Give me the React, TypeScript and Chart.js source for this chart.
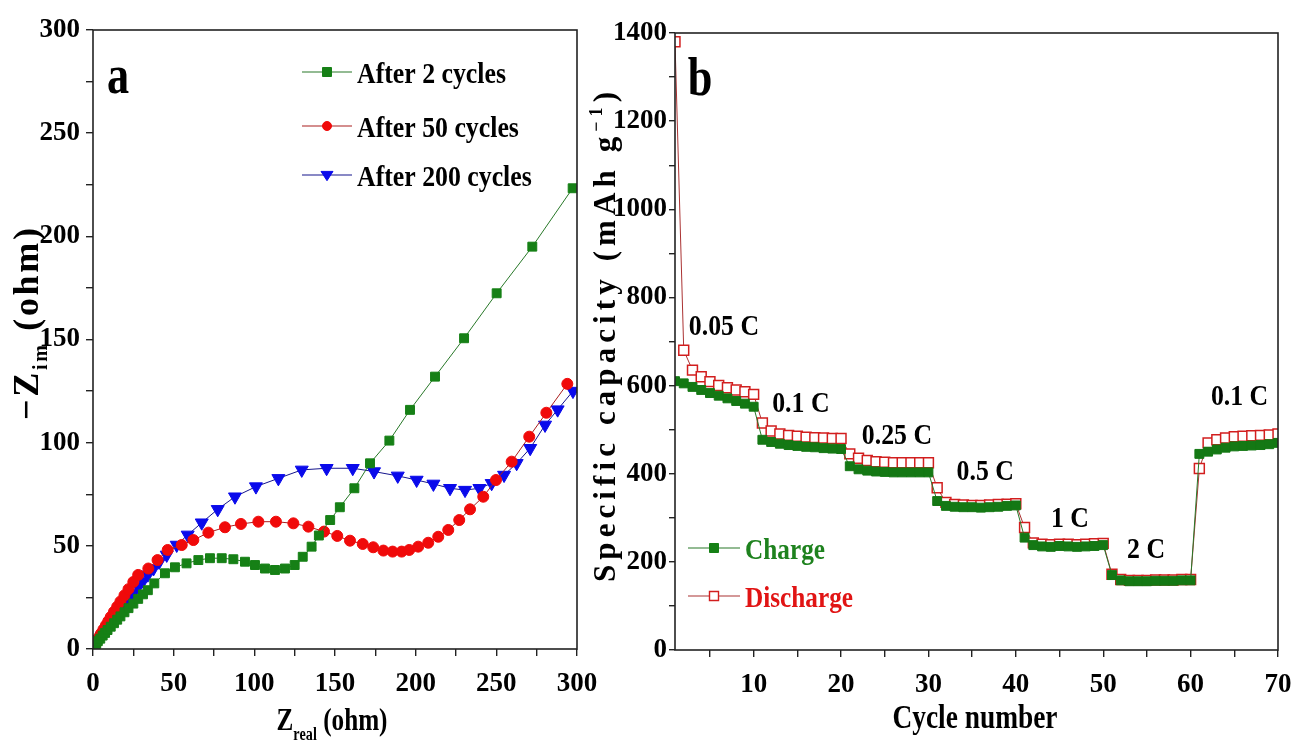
import React, { useEffect, useRef } from 'react';
import { Chart, registerables } from 'chart.js';

Chart.register(...registerables);

// ---------------- Panel (a): Nyquist plot ----------------
const after2Zre = [1, 2, 3, 4.5, 6, 7.5, 9, 11, 13, 15, 17, 19.5, 22, 25, 28, 31, 34, 38, 44.6, 50.8, 58, 65.3, 72.5, 79.8, 87, 94.2, 100.4, 106.6, 112.8, 119, 125, 130, 135.5, 140, 147, 153, 162, 171.7, 183.7, 196.5, 212, 230, 250.2, 272.3, 297.3];
const after2Zim = [1, 2.5, 3.8, 5, 6.5, 7.8, 9.2, 10.8, 12.5, 14.2, 15.8, 17.8, 19.8, 22, 24.3, 26.5, 28.5, 31.8, 36.7, 39.6, 41.5, 43.1, 44, 44, 43.5, 42.3, 40.7, 39, 38.3, 39, 40.7, 44.7, 49.6, 55, 62.5, 68.7, 77.9, 90, 101, 115.9, 132, 150.6, 172.4, 195, 223.3];

const after50Zre = [1, 2, 3, 4, 5, 6.5, 8, 9.5, 11, 13, 15, 17, 19.5, 22, 25, 28, 34.3, 40, 46.3, 55, 62.2, 71.5, 81.8, 91.7, 102.5, 113.4, 124.2, 133.5, 143.2, 151.4, 159.3, 167.2, 173.7, 180, 185.7, 191.3, 196, 201.6, 207.8, 214, 220.2, 227, 233.7, 241.9, 249.8, 259.5, 270.4, 281, 294];
const after50Zim = [1.5, 3, 4.5, 6, 7.5, 9.5, 11.5, 13.5, 15.5, 18, 20.5, 23, 26, 29, 32.5, 35.9, 39, 43.1, 48, 50.4, 52.8, 56.4, 59, 60.6, 61.7, 61.7, 60.9, 59.3, 56.9, 54.8, 52.5, 50.9, 49.3, 47.7, 47.2, 47.2, 48, 49.6, 51.5, 54.4, 57.7, 62.5, 67.7, 73.8, 81.9, 90.8, 102.9, 114.5, 128.5];

const after200Zre = [1, 2, 3, 4, 5.5, 7, 8.5, 10, 12, 14, 16, 18, 20, 22, 25, 28, 31, 34, 37.5, 41, 45.7, 51.9, 58.7, 67.4, 77.3, 88, 101, 114.9, 129.4, 144.8, 161, 174.2, 188.9, 200.6, 211, 221.3, 230.6, 239.5, 247.1, 254.8, 262.6, 271, 280.2, 288, 297.5];
const after200Zim = [1, 2.3, 3.6, 4.8, 6.3, 7.8, 9.3, 11, 13, 15.2, 17.5, 19.8, 22, 24.2, 27.2, 30.2, 33, 36, 39, 42.2, 45.6, 50.4, 55.3, 61.2, 67.7, 73.8, 78.7, 82.7, 86.8, 87.6, 87.6, 86, 83.9, 81.9, 80, 77.9, 77, 77.9, 80.3, 84.3, 90, 97.3, 108.6, 116, 125];

const nyquistTicks = [0, 25, 50, 75, 100, 125, 150, 175, 200, 225, 250, 275, 300];
const nyquistLegend = ['After 2 cycles', 'After 50 cycles', 'After 200 cycles'];

// ---------------- Panel (b): rate capability ----------------
const cycleNumbers = [1, 2, 3, 4, 5, 6, 7, 8, 9, 10, 11, 12, 13, 14, 15, 16, 17, 18, 19, 20, 21, 22, 23, 24, 25, 26, 27, 28, 29, 30, 31, 32, 33, 34, 35, 36, 37, 38, 39, 40, 41, 42, 43, 44, 45, 46, 47, 48, 49, 50, 51, 52, 53, 54, 55, 56, 57, 58, 59, 60, 61, 62, 63, 64, 65, 66, 67, 68, 69, 70];
const chargeCapacity = [
  610, 605, 597, 590, 583, 577, 571, 565, 559, 552,
  477, 472, 468, 465, 463, 461, 460, 458, 457, 456,
  417, 410, 407, 405, 404, 403, 403, 403, 403, 403,
  338, 327, 325, 324, 324, 323, 324, 325, 327, 328,
  255, 238, 235, 234, 236, 235, 234, 235, 236, 238,
  170, 158, 156, 156, 156, 157, 157, 157, 158, 158,
  445, 450, 455, 459, 462, 463, 464, 465, 467, 470,
];
const dischargeCapacity = [
  1380, 680, 635, 620, 609, 600, 595, 590, 586, 580,
  515, 497, 490, 487, 485, 483, 482, 481, 480, 480,
  445, 435, 430, 427, 426, 425, 425, 425, 425, 425,
  368, 335, 330, 329, 328, 328, 329, 330, 331, 332,
  278, 243, 240, 239, 240, 240, 239, 240, 241, 242,
  172, 160, 158, 158, 158, 159, 159, 159, 160, 160,
  412, 470, 477, 481, 484, 485, 486, 487, 488, 490,
];
const cycleTicks = [5, 10, 15, 20, 25, 30, 35, 40, 45, 50, 55, 60, 65, 70];
const rateLabels = ['0.05 C', '0.1 C', '0.25 C', '0.5 C', '1 C', '2 C', '0.1 C'];
const rateLabelCycle = [6.6, 15.4, 26.4, 36.5, 46.2, 54.9, 65.6];
const rateLabelCapacity = [737, 563, 490, 408, 302, 231, 579];
const rateLegend = ['Charge', 'Discharge'];

// ---------------- styling helpers ----------------
const SERIF = '"Liberation Serif", "Times New Roman", "DejaVu Serif", serif';
const GREEN = 'rgb(22,128,22)';
const RED = 'rgb(240,10,10)';
const BLUE = 'rgb(10,10,235)';

type Run = { t: string; size: number; dy?: number };
type RunOpts = { angle?: number; width?: number; sx?: number; color?: string; align?: 'left' | 'center' };

function drawRuns(ctx: CanvasRenderingContext2D, runs: Run[], x0: number, y0: number, opts: RunOpts) {
  ctx.save();
  const widths = runs.map((r) => {
    ctx.font = `bold ${r.size}px ${SERIF}`;
    return Array.from(r.t).map((ch) => ctx.measureText(ch).width);
  });
  const nChars = widths.reduce((a, w) => a + w.length, 0);
  const natural = widths.reduce((a, w) => a + w.reduce((s, v) => s + v, 0), 0);
  let sx = opts.sx ?? 1;
  let ls = 0;
  if (opts.width) {
    if (natural * sx > opts.width) sx = opts.width / natural;
    else ls = (opts.width / sx - natural) / Math.max(1, nChars - 1);
  }
  const total = natural + ls * (nChars - 1);
  ctx.translate(x0, y0);
  ctx.rotate(opts.angle ?? 0);
  ctx.scale(sx, 1);
  ctx.fillStyle = opts.color ?? '#000';
  ctx.textBaseline = 'alphabetic';
  ctx.textAlign = 'left';
  let x = opts.align === 'left' ? 0 : -total / 2;
  runs.forEach((r, i) => {
    ctx.font = `bold ${r.size}px ${SERIF}`;
    Array.from(r.t).forEach((ch, j) => {
      ctx.fillText(ch, x, r.dy ?? 0);
      x += widths[i][j] + ls;
    });
  });
  ctx.restore();
}

function drawMarker(ctx: CanvasRenderingContext2D, kind: string, x: number, y: number, r: number, fill: string, stroke: string, lw = 1) {
  ctx.save();
  ctx.beginPath();
  if (kind === 'rect') {
    ctx.rect(x - r, y - r, 2 * r, 2 * r);
  } else if (kind === 'circle') {
    ctx.arc(x, y, r, 0, Math.PI * 2);
  } else {
    ctx.moveTo(x - r, y - r * 0.6);
    ctx.lineTo(x + r, y - r * 0.6);
    ctx.lineTo(x, y + r * 0.95);
    ctx.closePath();
  }
  ctx.fillStyle = fill;
  ctx.fill();
  ctx.lineWidth = lw;
  ctx.strokeStyle = stroke;
  ctx.stroke();
  ctx.restore();
}

function drawFrame(chart: any) {
  const { ctx, chartArea } = chart;
  ctx.save();
  ctx.strokeStyle = '#222';
  ctx.lineWidth = 1.6;
  ctx.strokeRect(chartArea.left, chartArea.top, chartArea.right - chartArea.left, chartArea.bottom - chartArea.top);
  ctx.restore();
}

const tickFont = { family: SERIF, size: 27, weight: 'bold' as const };

const decorA = {
  id: 'decorA',
  afterDraw(chart: any) {
    const ctx: CanvasRenderingContext2D = chart.ctx;
    drawFrame(chart);
    drawRuns(ctx, [{ t: 'a', size: 54 }], 118, 93, { sx: 0.82 });
    const rows = [72, 126, 175];
    const colors = [GREEN, RED, BLUE];
    const lineCols = ['rgb(40,120,40)', 'rgb(170,30,30)', 'rgb(20,20,140)'];
    const kinds = ['rect', 'circle', 'tri'];
    rows.forEach((y, i) => {
      ctx.save();
      ctx.strokeStyle = lineCols[i];
      ctx.lineWidth = 1.2;
      ctx.beginPath();
      ctx.moveTo(302, y);
      ctx.lineTo(352, y);
      ctx.stroke();
      ctx.restore();
      drawMarker(ctx, kinds[i], 327, y, kinds[i] === 'tri' ? 6 : 4.5, colors[i], colors[i]);
      drawRuns(ctx, [{ t: nyquistLegend[i], size: 30 }], 357, y + 11, { align: 'left', sx: 0.86 });
    });
    drawRuns(ctx, [{ t: 'Z', size: 32 }, { t: 'real', size: 18, dy: 10 }, { t: ' (ohm)', size: 32 }], 332, 730, { width: 111 });
    drawRuns(ctx, [{ t: '\u2212Z', size: 36 }, { t: 'im', size: 20, dy: 9 }, { t: ' (ohm)', size: 36 }], 38, 324, { width: 192, angle: -Math.PI / 2 });
  },
};

const decorB = {
  id: 'decorB',
  afterDraw(chart: any) {
    const ctx: CanvasRenderingContext2D = chart.ctx;
    drawFrame(chart);
    const xs = chart.scales.x;
    const ys = chart.scales.y;
    drawRuns(ctx, [{ t: 'b', size: 54 }], 120, 95, { sx: 0.82 });
    rateLabels.forEach((lab, i) => {
      drawRuns(ctx, [{ t: lab, size: 30 }], xs.getPixelForValue(rateLabelCycle[i]), ys.getPixelForValue(rateLabelCapacity[i]) + 10, { sx: 0.86 });
    });
    const rows = [548, 596];
    rows.forEach((y, i) => {
      ctx.save();
      ctx.strokeStyle = i === 0 ? 'rgb(40,120,40)' : 'rgb(170,50,50)';
      ctx.lineWidth = 1.2;
      ctx.beginPath();
      ctx.moveTo(108, y);
      ctx.lineTo(160, y);
      ctx.stroke();
      ctx.restore();
      if (i === 0) drawMarker(ctx, 'rect', 134, y, 4.5, GREEN, GREEN);
      else drawMarker(ctx, 'rect', 134, y, 4.5, '#fff', 'rgb(210,30,30)', 1.4);
      drawRuns(ctx, [{ t: rateLegend[i], size: 30 }], 165, y + 11, {
        align: 'left',
        width: i === 0 ? 80 : 108,
        color: i === 0 ? 'rgb(30,130,30)' : 'rgb(225,20,20)',
      });
    });
    drawRuns(ctx, [{ t: 'Cycle number', size: 34 }], 395, 728, { width: 165 });
    drawRuns(
      ctx,
      [{ t: 'Specific capacity (mAh g', size: 31 }, { t: '\u22121', size: 18, dy: -13 }, { t: ')', size: 31 }],
      35,
      337,
      { width: 490, angle: -Math.PI / 2 }
    );
  },
};

function axisGrid(len: number) {
  return { display: true, drawOnChartArea: false, drawTicks: true, tickLength: len, color: '#222', lineWidth: 1.4 };
}

function fitX(h: number) {
  return (s: any) => {
    s.height = h;
    s.paddingLeft = 0;
    s.paddingRight = 0;
  };
}
function fitY(w: number) {
  return (s: any) => {
    s.width = w;
    s.paddingTop = 0;
    s.paddingBottom = 0;
  };
}

export default function App() {
  const refA = useRef<HTMLCanvasElement>(null);
  const refB = useRef<HTMLCanvasElement>(null);

  useEffect(() => {
    const mk = (xs: number[], ys: number[]) => xs.map((x, i) => ({ x, y: ys[i] }));
    const chartA = new Chart(refA.current as HTMLCanvasElement, {
      type: 'scatter',
      data: {
        datasets: [
          {
            label: nyquistLegend[0],
            data: mk(after2Zre, after2Zim),
            showLine: true,
            borderColor: 'rgb(40,120,40)',
            borderWidth: 1,
            pointStyle: 'rect',
            pointRadius: 6.3,
            pointBackgroundColor: GREEN,
            pointBorderColor: GREEN,
          },
          {
            label: nyquistLegend[1],
            data: mk(after50Zre, after50Zim),
            showLine: true,
            borderColor: 'rgb(170,30,30)',
            borderWidth: 1,
            pointStyle: 'circle',
            pointRadius: 5.5,
            pointBackgroundColor: RED,
            pointBorderColor: RED,
          },
          {
            label: nyquistLegend[2],
            data: mk(after200Zre, after200Zim),
            showLine: true,
            borderColor: 'rgb(20,20,140)',
            borderWidth: 1,
            pointStyle: 'triangle',
            rotation: 180,
            pointRadius: 7.5,
            pointBackgroundColor: BLUE,
            pointBorderColor: BLUE,
          },
        ],
      },
      options: {
        responsive: false,
        animation: false,
        devicePixelRatio: 1,
        layout: { padding: { left: 0, right: 23, top: 30, bottom: 0 } },
        plugins: { legend: { display: false }, tooltip: { enabled: false } },
        scales: {
          x: {
            type: 'linear',
            min: 0,
            max: 300,
            afterBuildTicks: (s: any) => { s.ticks = nyquistTicks.map((v) => ({ value: v })); },
            afterFit: fitX(100),
            ticks: { autoSkip: false, maxRotation: 0, padding: 12, color: '#000', font: tickFont, callback: (v: any) => (Number(v) % 50 === 0 ? String(v) : '') },
            grid: axisGrid(7),
            border: { display: false },
          },
          y: {
            type: 'linear',
            min: 0,
            max: 300,
            afterBuildTicks: (s: any) => { s.ticks = nyquistTicks.map((v) => ({ value: v })); },
            afterFit: fitY(93),
            ticks: { autoSkip: false, padding: 6, color: '#000', font: tickFont, callback: (v: any) => (Number(v) % 50 === 0 ? String(v) : '') },
            grid: axisGrid(7),
            border: { display: false },
          },
        },
      },
      plugins: [decorA],
    } as any);

    const chartB = new Chart(refB.current as HTMLCanvasElement, {
      type: 'scatter',
      data: {
        datasets: [
          {
            label: rateLegend[0],
            data: mk(cycleNumbers, chargeCapacity),
            showLine: true,
            borderColor: 'rgb(40,120,40)',
            borderWidth: 1,
            pointStyle: 'rect',
            pointRadius: 6.3,
            pointBackgroundColor: 'rgb(20,120,20)',
            pointBorderColor: 'rgb(20,120,20)',
          },
          {
            label: rateLegend[1],
            data: mk(cycleNumbers, dischargeCapacity),
            showLine: true,
            borderColor: 'rgb(170,50,50)',
            borderWidth: 1,
            pointStyle: 'rect',
            pointRadius: 7,
            pointBorderWidth: 1.5,
            pointBackgroundColor: '#fff',
            pointBorderColor: 'rgb(210,30,30)',
          },
        ],
      },
      options: {
        responsive: false,
        animation: false,
        devicePixelRatio: 1,
        layout: { padding: { left: 0, right: 13, top: 33, bottom: 0 } },
        plugins: { legend: { display: false }, tooltip: { enabled: false } },
        scales: {
          x: {
            type: 'linear',
            min: 1,
            max: 70,
            afterBuildTicks: (s: any) => { s.ticks = cycleTicks.map((v) => ({ value: v })); },
            afterFit: fitX(99),
            ticks: { autoSkip: false, maxRotation: 0, padding: 12, color: '#000', font: tickFont, callback: (v: any) => (Number(v) % 10 === 0 ? String(v) : '') },
            grid: axisGrid(7),
            border: { display: false },
          },
          y: {
            type: 'linear',
            min: 0,
            max: 1400,
            ticks: { stepSize: 100, autoSkip: false, padding: 2, color: '#000', font: tickFont, callback: (v: any) => (Number(v) % 200 === 0 ? String(v) : '') },
            afterFit: fitY(95),
            grid: axisGrid(6),
            border: { display: false },
          },
        },
      },
      plugins: [decorB],
    } as any);

    return () => {
      chartA.destroy();
      chartB.destroy();
    };
  }, []);

  return (
    <div style={{ position: 'absolute', left: 0, top: 0, width: 1291, height: 749, background: '#fff', overflow: 'hidden' }}>
      <canvas ref={refA} width={600} height={749} style={{ position: 'absolute', left: 0, top: 0, width: 600, height: 749 }} />
      <canvas ref={refB} width={711} height={749} style={{ position: 'absolute', left: 580, top: 0, width: 711, height: 749 }} />
    </div>
  );
}
